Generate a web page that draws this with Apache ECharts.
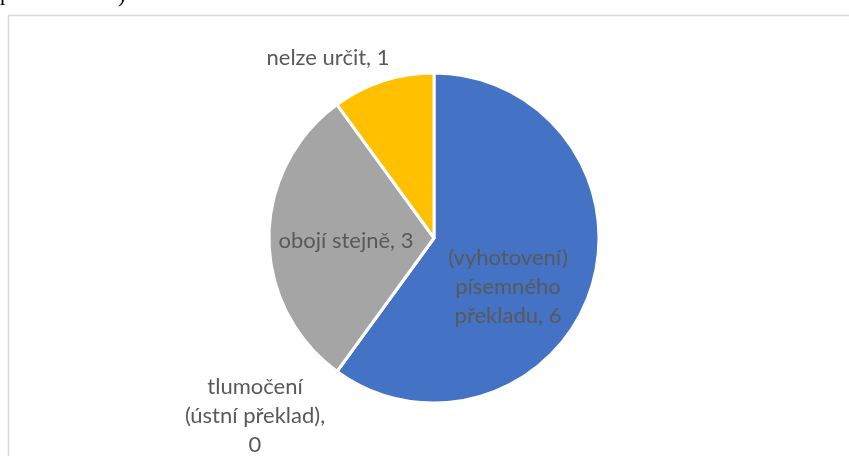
<!DOCTYPE html>
<html>
<head>
<meta charset="utf-8">
<script src="https://cdn.jsdelivr.net/npm/echarts@6/dist/echarts.min.js"></script>
<style>
  html, body { margin: 0; padding: 0; background: #fff; }
  #chartPie { width: 849px; height: 456px; }
</style>
</head>
<body>
<div id="chartPie"></div>
<script>
// data
var categories = [
  "(vyhotovení)\npísemného\npřekladu",
  "tlumočení\n(ústní překlad)",
  "obojí stejně",
  "nelze určit"
];
var values = [6, 0, 3, 1];
var colors = ["#4472C4", "#ED7D31", "#A5A5A5", "#FFC000"];
var labelPositions = ["inside", "outside", "inside", "outside"];

InitPie();

function InitPie() {
  var myChart = echarts.init(document.getElementById("chartPie"));
  var data = categories.map(function (name, i) {
    return {
      name: name,
      value: values[i],
      itemStyle: { color: colors[i] },
      label: {
        position: labelPositions[i],
        formatter: i === 1 ? "{b},\n{c}" : "{b}, {c}"
      }
    };
  });
  var option = {
    animation: false,
    graphic: [
      {
        type: "rect",
        shape: { x: 8.5, y: 15.5, width: 1000, height: 600 },
        style: { fill: "none", stroke: "#d9d9d9", lineWidth: 1.5 },
        silent: true
      },
      {
        type: "text",
        x: 0,
        y: -17,
        style: { text: "p", font: "22px 'Liberation Serif'", fill: "#000" }
      },
      {
        type: "text",
        x: 118,
        y: -15,
        style: { text: ")", font: "22px 'Liberation Serif'", fill: "#000" }
      }
    ],
    series: [
      {
        type: "pie",
        center: [434, 238],
        radius: 165,
        startAngle: 90,
        clockwise: true,
        avoidLabelOverlap: false,
        itemStyle: { borderColor: "#fff", borderWidth: 3 },
        label: {
          show: true,
          color: "#595959",
          fontFamily: "Lato",
          fontSize: 22,
          lineHeight: 29,
          align: "center"
        },
        labelLine: { show: false },
        labelLayout: function (params) {
          if (params.dataIndex === 0) return { x: 508, y: 287, align: "center", verticalAlign: "middle" };
          if (params.dataIndex === 1) return { x: 255, y: 416, align: "center", verticalAlign: "middle" };
          if (params.dataIndex === 2) return { x: 346, y: 241, align: "center", verticalAlign: "middle" };
          if (params.dataIndex === 3) return { x: 328, y: 58, align: "center", verticalAlign: "middle" };
          return {};
        },
        data: data
      }
    ]
  };
  myChart.setOption(option);
}
</script>
</body>
</html>
